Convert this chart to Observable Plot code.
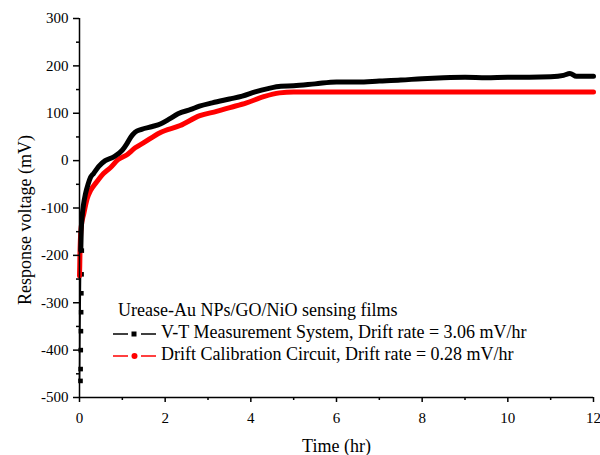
<!DOCTYPE html>
<html><head><meta charset="utf-8">
<script src="https://cdn.jsdelivr.net/npm/d3@7"></script>
<script src="https://cdn.jsdelivr.net/npm/@observablehq/plot@0.6"></script>
<style>
body{margin:0;background:#fff}
#wrap{position:relative;width:600px;height:455px;font-family:"Liberation Serif","Times New Roman",serif;color:#000}
#wrap svg text{font-family:"Liberation Serif","Times New Roman",serif !important}
.leg{position:absolute;left:0;top:0;font-size:18px;white-space:nowrap;line-height:22px}
.row{position:absolute;white-space:nowrap}
</style></head><body><div id="wrap"></div>
<script>
// V-T Measurement System (black)
const vtTime = [0,0.003,0.006,0.01,0.015,0.02,0.025,0.03,0.04,0.06,0.09,0.14,0.2,0.26,0.33,0.45,0.6,0.8,1.0,1.1,1.2,1.3,1.45,1.7,1.9,2.1,2.3,2.6,2.8,3.1,3.5,3.8,4.1,4.4,4.7,5.0,5.5,6.0,6.5,7.0,7.5,8.0,8.5,9.0,9.5,10.0,10.5,11.0,11.3,11.45,11.6,12.0];
const vtVoltage = [-465,-440,-400,-360,-320,-280,-240,-190,-150,-120,-95,-70,-50,-35,-27,-12,0,8,22,35,50,60,66,72,78,88,99,108,115,122,130,136,145,152,157,158,162,166,166,168,170,173,175,176,175,176,176,177,180,184,178,178];
// Drift Calibration Circuit (red)
const dcTime = [0,0.005,0.01,0.02,0.04,0.1,0.18,0.26,0.4,0.56,0.72,0.9,1.1,1.3,1.5,1.88,2.35,2.81,3.2,3.51,3.9,4.3,4.67,5.0,6,8,10,12];
const dcVoltage = [-243,-225,-200,-169,-140,-112,-80,-63,-45,-27,-15,2,12,27,38,59,74,95,104,112,122,135,143,145,145,145,145,145];

const xTicks = [0,2,4,6,8,10,12];
const xMinor = [1,3,5,7,9,11];
const yTicks = [-500,-400,-300,-200,-100,0,100,200,300];
const yMinor = [-450,-350,-250,-150,-50,50,150,250];
const xLabel = "Time (hr)";
const yLabel = "Response voltage (mV)";
const legendTitle = "Urease-Au NPs/GO/NiO sensing films";
const seriesNames = ["V-T Measurement System, Drift rate = 3.06 mV/hr","Drift Calibration Circuit, Drift rate = 0.28 mV/hr"];
const seriesColors = ["#000000","#ff0000"];

const FONT = "Liberation Serif";
const vt = vtTime.map((t,i)=>({t, v: vtVoltage[i]}));
const dc = dcTime.map((t,i)=>({t, v: dcVoltage[i]}));
const vtEarly = vt.filter(d=>d.t<0.04);
const vtMain = vt.filter(d=>d.t>=0.03);

const chart = Plot.plot({
  width: 600, height: 455,
  marginLeft: 79, marginRight: 7, marginTop: 18, marginBottom: 58,
  style: {fontFamily: FONT, fontSize: "15px", color: "#000", background: "#fff", overflow: "visible"},
  x: {domain: [0,12]},
  y: {domain: [-500,300]},
  marks: [
    Plot.line(vtEarly, {x:"t", y:"v", stroke: seriesColors[0], strokeWidth: 1.5}),
    Plot.dot(vtEarly, {x:"t", y:"v", symbol:"square", r: 2.6, fill: seriesColors[0], dx: 1}),
    Plot.line(dc, {x:"t", y:"v", stroke: seriesColors[1], strokeWidth: 5, curve: "monotone-x"}),
    Plot.line(vtMain, {x:"t", y:"v", stroke: seriesColors[0], strokeWidth: 5, curve: "monotone-x"}),
    Plot.ruleX([0], {strokeWidth: 1.5}),
    Plot.ruleY([-500], {strokeWidth: 1.5}),
    Plot.axisY({ticks: yTicks, tickSize: 6, tickPadding: 5, strokeWidth: 1.5, tickFormat: d => String(d), label: null, fontSize: 15, fontFamily: FONT}),
    Plot.axisY({ticks: yMinor, tickSize: 3, strokeWidth: 1.5, text: null, label: null}),
    Plot.axisX({ticks: xTicks, tickSize: 5, tickPadding: 10, strokeWidth: 1.5, tickFormat: d => String(d), label: null, fontSize: 15, fontFamily: FONT}),
    Plot.axisX({ticks: xMinor, tickSize: 3, strokeWidth: 1.5, text: null, label: null}),
    Plot.text([xLabel], {frameAnchor: "bottom", dy: 54, fontSize: 18, fontFamily: FONT}),
    Plot.text([yLabel], {frameAnchor: "left", textAnchor: "middle", dx: -54, dy: 12, rotate: -90, fontSize: 18, fontFamily: FONT})
  ]
});
const wrap = document.getElementById("wrap");
wrap.appendChild(chart);

// legend overlay
const leg = document.createElement("div");
leg.className = "leg";
const sym = (c, kind) => `<svg width="44" height="14" style="vertical-align:middle;margin-right:4px">
  <line x1="0" y1="7" x2="15" y2="7" stroke="${c}" stroke-width="1.5"/>
  <line x1="28" y1="7" x2="43" y2="7" stroke="${c}" stroke-width="1.5"/>
  ${kind==="square" ? `<rect x="18.5" y="4.5" width="5" height="5" fill="${c}"/>` : `<circle cx="21.5" cy="7" r="3" fill="${c}"/>`}
</svg>`;
leg.innerHTML = `<div class="row" style="left:118px;top:299px">${legendTitle}</div>
<div class="row" style="left:113px;top:321px">${sym(seriesColors[0],"square")}${seriesNames[0]}</div>
<div class="row" style="left:113px;top:343px">${sym(seriesColors[1],"circle")}${seriesNames[1]}</div>`;
wrap.appendChild(leg);
</script></body></html>
